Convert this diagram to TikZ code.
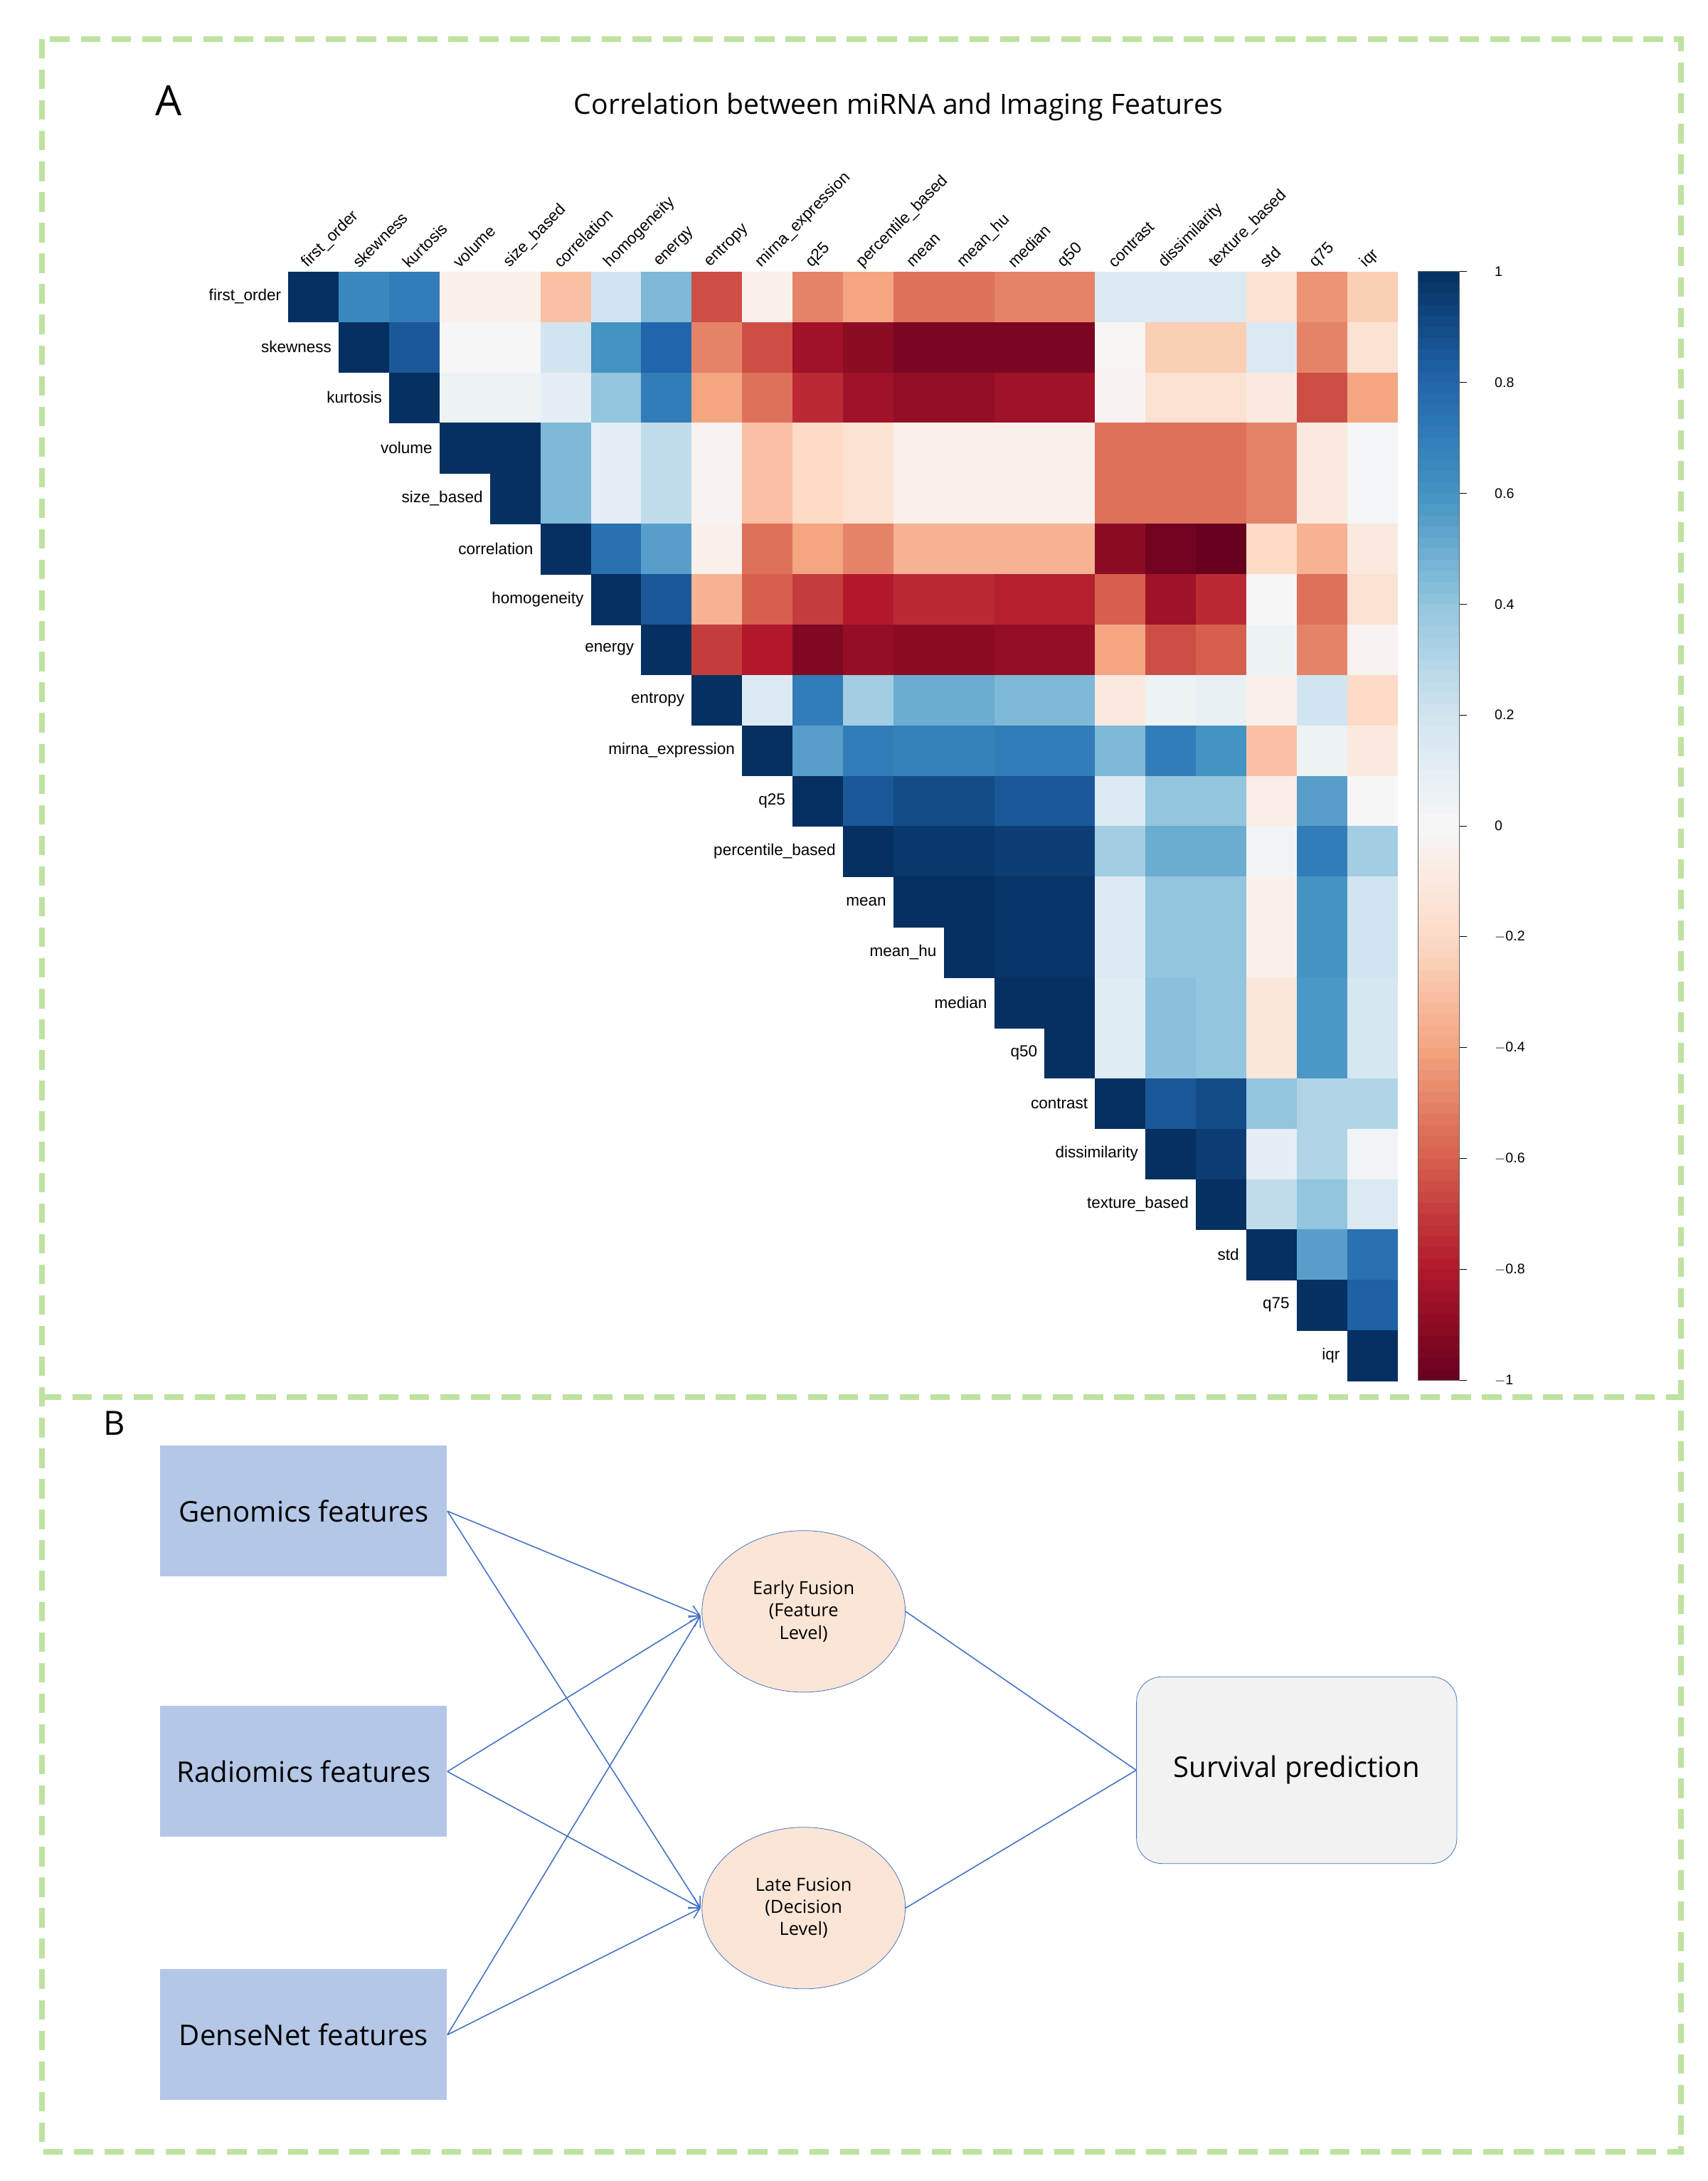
\documentclass[tikz,border=0pt]{standalone}
\usepackage{fontspec}
\setmainfont{Liberation Sans}
\newfontfamily\osans{Open Sans}
\usetikzlibrary{shapes.geometric,arrows.meta}
\definecolor{rb0}{HTML}{67001F}\definecolor{rb1}{HTML}{B2182B}\definecolor{rb2}{HTML}{D6604D}
\definecolor{rb3}{HTML}{F4A582}\definecolor{rb4}{HTML}{FDDBC7}\definecolor{rb5}{HTML}{F7F7F7}
\definecolor{rb6}{HTML}{D1E5F0}\definecolor{rb7}{HTML}{92C5DE}\definecolor{rb8}{HTML}{4393C3}
\definecolor{rb9}{HTML}{2166AC}\definecolor{rb10}{HTML}{053061}
\definecolor{dgreen}{RGB}{190,226,160}
\definecolor{boxblue}{HTML}{B4C7E7}
\definecolor{lineblue}{HTML}{4472C4}
\definecolor{peach}{HTML}{FBE5D6}
\definecolor{lgray}{HTML}{F2F2F2}
\newcommand\hmcol[1]{%
 \pgfmathsetmacro\hmT{(#1+1)*5}%
 \pgfmathtruncatemacro\hmK{min(floor(\hmT),9)}%
 \pgfmathtruncatemacro\hmN{\hmK+1}%
 \pgfmathsetmacro\hmF{min(max((\hmT-\hmK)*100,0),100)}%
 \colorlet{hm}{rb\hmN!\hmF!rb\hmK}}
\begin{document}
\begin{tikzpicture}[x=1pt,y=-1pt,
  lab/.style={font=\fontsize{11.5}{13}\selectfont,inner sep=1pt},
  feat/.style={draw=none,fill=boxblue,minimum width=206pt,minimum height=94pt,font=\osans\fontsize{20.5}{24}\selectfont},
  fus/.style={ellipse,draw=lineblue,fill=peach,minimum width=146pt,minimum height=116pt,align=center,font=\osans\fontsize{13}{16}\selectfont},
  con/.style={lineblue,line width=0.8pt},
  arr/.style={con,-{Straight Barb[length=7pt,width=9pt]}}]
\useasboundingbox (0,0) rectangle (1226,1566);
\fill[white] (0,0) rectangle (1226,1566);
\draw[dgreen,line width=4pt,dash pattern=on 14pt off 8pt] (30,28) rectangle (1207,1545);
\draw[dgreen,line width=4pt,dash pattern=on 14pt off 8pt] (30,1003) -- (1207,1003);
\node[font=\osans\fontsize{30}{32}\selectfont] (A) at (121,72) {A};
\node[font=\osans\fontsize{20}{23}\selectfont] (title) at (645,77) {Correlation between miRNA and Imaging Features};
% heatmap
\foreach \r/\vals in {
0/{1,0.65,0.7,-0.05,-0.05,-0.3,0.2,0.45,-0.65,-0.05,-0.5,-0.4,-0.55,-0.55,-0.5,-0.5,0.15,0.15,0.15,-0.15,-0.45,-0.25},
1/{1,0.85,0.0,0.0,0.2,0.6,0.8,-0.5,-0.65,-0.85,-0.9,-0.95,-0.95,-0.95,-0.95,-0.02,-0.25,-0.25,0.15,-0.5,-0.15},
2/{1,0.05,0.05,0.1,0.4,0.7,-0.4,-0.55,-0.75,-0.85,-0.88,-0.88,-0.85,-0.85,-0.03,-0.15,-0.15,-0.1,-0.65,-0.4},
3/{1,1,0.45,0.1,0.25,-0.03,-0.3,-0.2,-0.15,-0.05,-0.05,-0.05,-0.05,-0.55,-0.55,-0.55,-0.5,-0.1,0.02},
4/{1,0.45,0.1,0.25,-0.03,-0.3,-0.2,-0.15,-0.05,-0.05,-0.05,-0.05,-0.55,-0.55,-0.55,-0.5,-0.1,0.02},
5/{1,0.75,0.55,-0.05,-0.55,-0.4,-0.5,-0.35,-0.35,-0.35,-0.35,-0.9,-0.97,-1,-0.2,-0.35,-0.1},
6/{1,0.85,-0.35,-0.6,-0.7,-0.8,-0.75,-0.75,-0.78,-0.78,-0.6,-0.85,-0.75,0.0,-0.55,-0.15},
7/{1,-0.7,-0.8,-0.93,-0.88,-0.9,-0.9,-0.88,-0.88,-0.4,-0.65,-0.6,0.05,-0.5,-0.03},
8/{1,0.15,0.7,0.35,0.5,0.5,0.45,0.45,-0.1,0.05,0.08,-0.05,0.2,-0.2},
9/{1,0.55,0.7,0.68,0.68,0.7,0.7,0.45,0.7,0.6,-0.3,0.05,-0.1},
10/{1,0.85,0.9,0.9,0.85,0.85,0.15,0.4,0.4,-0.07,0.55,0.0},
11/{1,0.97,0.97,0.95,0.95,0.35,0.5,0.5,0.03,0.7,0.35},
12/{1,1,0.98,0.98,0.15,0.4,0.4,-0.05,0.6,0.2},
13/{1,0.98,0.98,0.15,0.4,0.4,-0.05,0.6,0.2},
14/{1,1,0.12,0.42,0.4,-0.12,0.58,0.18},
15/{1,0.12,0.42,0.4,-0.12,0.58,0.18},
16/{1,0.85,0.9,0.4,0.3,0.3},
17/{1,0.95,0.1,0.3,0.03},
18/{1,0.25,0.4,0.15},
19/{1,0.55,0.75},
20/{1,0.82},
21/{1}}{
  \foreach \v [count=\c from 0] in \vals {
    \hmcol{\v}
    \pgfmathsetmacro\cx{\r+\c}
    \fill[hm] ({207+\cx*36.2},{195+\r*36.2}) rectangle ++(36.5,36.5);
  }
}
\foreach \n [count=\c from 0] in {first\_order,skewness,kurtosis,volume,size\_based,correlation,homogeneity,energy,entropy,mirna\_expression,q25,percentile\_based,mean,mean\_hu,median,q50,contrast,dissimilarity,texture\_based,std,q75,iqr}{
  \node[lab,anchor=east] (r\c) at ({207+\c*36.2-4},{195+\c*36.2+18}) {\n};
  \node[lab,anchor=west,rotate=45] (c\c) at ({207+\c*36.2+11},{191}) {\n};
}
% colorbar
\foreach \i in {0,...,99}{
  \pgfmathsetmacro\cv{1-(\i+0.5)/50}
  \hmcol{\cv}
  \fill[hm] (1018,{195+\i*7.96}) rectangle (1048,{195+(\i+1)*7.96+0.3});
}
\draw[black!60,line width=0.4pt] (1018,195) rectangle (1048,991);
\foreach \v/\t in {1/1,0.8/0.8,0.6/0.6,0.4/0.4,0.2/0.2,0/0,-0.2/$-$0.2,-0.4/$-$0.4,-0.6/$-$0.6,-0.8/$-$0.8,-1/$-$1}{
  \draw[black,line width=0.4pt] (1048,{195+(1-\v)*398}) -- ++(5,0);
  \node[font=\fontsize{10}{12}\selectfont,anchor=west,inner sep=1pt] at (1072,{195+(1-\v)*398}) {\t};
}
% panel B
\node[font=\osans\fontsize{24}{26}\selectfont] (B) at (82,1022) {B};
\node[feat] (gen) at (218,1085) {Genomics features};
\node[feat] (rad) at (218,1272) {Radiomics features};
\node[feat] (den) at (218,1461) {DenseNet features};
\node[fus] (early) at (577,1157) {Early Fusion\\(Feature\\Level)};
\node[fus] (late) at (577,1370) {Late Fusion\\(Decision\\Level)};
\node[draw=lineblue,fill=lgray,rounded corners=18pt,minimum width=230pt,minimum height=134pt,font=\osans\fontsize{20.5}{24}\selectfont] (surv) at (931,1271) {Survival prediction};
\coordinate (ein) at (503,1160);
\coordinate (lin) at (503,1370);
\foreach \s in {gen,rad,den}{
  \draw[arr] (\s.east) -- (ein);
  \draw[arr] (\s.east) -- (lin);
}
\draw[con] (early.east) -- (surv.west);
\draw[con] (late.east) -- (surv.west);
\end{tikzpicture}
\end{document}
